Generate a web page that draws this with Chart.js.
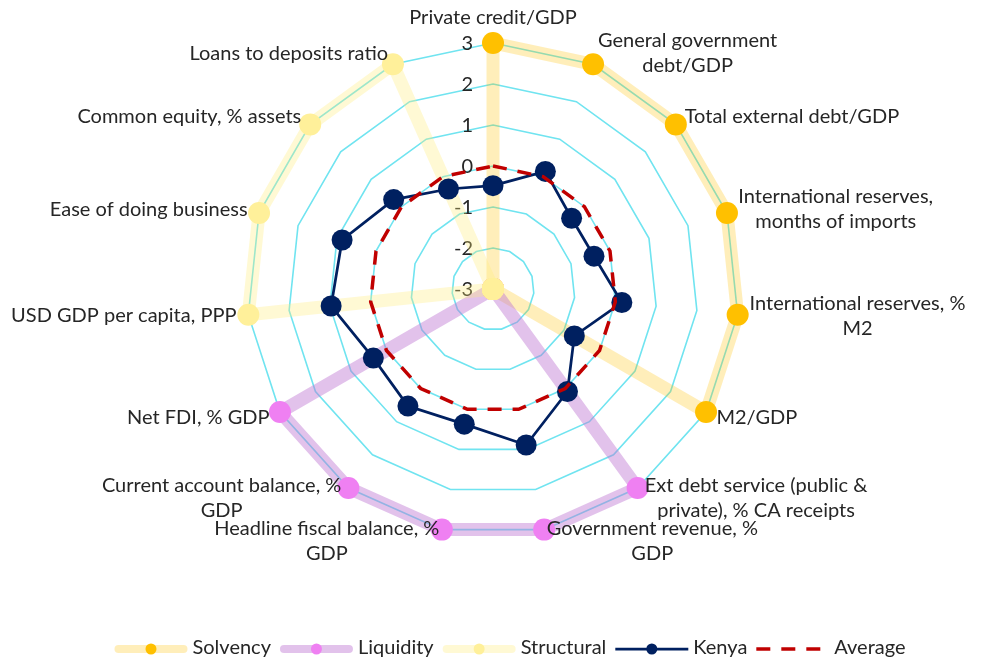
<!DOCTYPE html>
<html>
<head>
<meta charset="utf-8">
<script src="https://cdn.jsdelivr.net/npm/chart.js@4"></script>
<style>
  html, body { margin: 0; padding: 0; background: #ffffff; }
  #wrap { width: 984px; height: 659px; position: relative; }
</style>
</head>
<body>
<div id="wrap"><canvas id="chart"></canvas></div>
<script>
// Indicator axes, clockwise from the top
const categories = [
  ["Private credit/GDP"],
  ["General government", "debt/GDP"],
  ["Total external debt/GDP"],
  ["International reserves,", "months of imports"],
  ["International reserves, %", "M2"],
  ["M2/GDP"],
  ["Ext debt service (public &", "private), % CA receipts"],
  ["Government revenue, %", "GDP"],
  ["Headline fiscal balance, %", "GDP"],
  ["Current account balance, %", "GDP"],
  ["Net FDI, % GDP"],
  ["USD GDP per capita, PPP"],
  ["Ease of doing business"],
  ["Common equity, % assets"],
  ["Loans to deposits ratio"]
];

// Group bands: 3 on the group's own axes, -3 (centre) elsewhere
const solvency   = [3, 3, 3, 3, 3, 3, -3, -3, -3, -3, -3, -3, -3, -3, -3];
const liquidity  = [-3, -3, -3, -3, -3, -3, 3, 3, 3, 3, 3, -3, -3, -3, -3];
const structural = [-3, -3, -3, -3, -3, -3, -3, -3, -3, -3, -3, 3, 3, 3, 3];

// Standardised scores
const kenya   = [-0.48, 0.14, -0.42, -0.41, 0.16, -0.71, 0.09, 0.89, 0.37, 0.53, 0.37, 0.97, 0.87, 0.26, -0.33];
const average = [0, 0, 0, 0, 0, 0, 0, 0, 0, 0, 0, 0, 0, 0, 0];

const tickValues = [-3, -2, -1, 0, 1, 2, 3];

const FONT_FAMILY = "Lato, 'Open Sans', sans-serif";
const FONT_SIZE = 20;
const TEXT_COLOR = '#262626';

const legendItems = [
  { text: 'Solvency',   kind: 'band',   band: 'rgba(255,192,0,0.27)',   dot: '#FFC000' },
  { text: 'Liquidity',  kind: 'band',   band: 'rgba(190,120,210,0.45)', dot: '#EF80F2' },
  { text: 'Structural', kind: 'band',   band: 'rgba(255,236,120,0.32)', dot: '#FFF09A' },
  { text: 'Kenya',      kind: 'line',   color: '#002060' },
  { text: 'Average',    kind: 'dashed', color: '#C00000' }
];

// Tick numbers to the left of the vertical axis, drawn under the series
const tickLabelPlugin = {
  id: 'tickLabels',
  beforeDatasetsDraw(chart) {
    const scale = chart.scales.r;
    const ctx = chart.ctx;
    ctx.save();
    ctx.font = FONT_SIZE + 'px ' + FONT_FAMILY;
    ctx.fillStyle = TEXT_COLOR;
    ctx.textAlign = 'right';
    ctx.textBaseline = 'middle';
    tickValues.forEach(v => {
      const p = scale.getPointPositionForValue(0, v);
      ctx.fillText(String(v), p.x - 20, p.y + 1);
    });
    ctx.restore();
  }
};

// Axis titles placed just outside the outer ring, and the legend row
const axisTitlePlugin = {
  id: 'axisTitles',
  afterDraw(chart) {
    const scale = chart.scales.r;
    const ctx = chart.ctx;
    const lineH = 25;
    ctx.save();
    ctx.font = FONT_SIZE + 'px ' + FONT_FAMILY;
    ctx.fillStyle = TEXT_COLOR;
    ctx.textBaseline = 'middle';
    ctx.textAlign = 'center';
    const n = categories.length;
    categories.forEach((lines, i) => {
      const ang = i * 2 * Math.PI / n;
      const s = Math.sin(ang), c = Math.cos(ang);
      const p = scale.getPointPosition(i, scale.drawingArea + 12);
      const w = Math.max(...lines.map(t => ctx.measureText(t).width));
      let cx;
      if (s > 0.05) cx = p.x + w / 2;
      else if (s < -0.05) cx = p.x - w / 2;
      else cx = p.x;
      let cy = p.y;
      if (Math.abs(s) <= 0.05 && c > 0) cy = p.y - (lines.length * lineH) / 2 - 1;
      const top = cy - (lines.length - 1) * lineH / 2;
      lines.forEach((t, k) => ctx.fillText(t, cx, top + k * lineH));
    });

    // legend
    const symW = 73, gapIn = 5, gapOut = 9;
    const widths = legendItems.map(it => ctx.measureText(it.text).width);
    let total = 0;
    widths.forEach((w, k) => { total += symW + gapIn + w + (k < widths.length - 1 ? gapOut : 0); });
    let x = 510 - total / 2;
    const y = 649;
    legendItems.forEach((it, k) => {
      const mid = x + symW / 2;
      if (it.kind === 'band') {
        ctx.strokeStyle = it.band;
        ctx.lineWidth = 8;
        ctx.lineCap = 'round';
        ctx.beginPath(); ctx.moveTo(x + 4, y); ctx.lineTo(x + symW - 4, y); ctx.stroke();
        ctx.fillStyle = it.dot;
        ctx.beginPath(); ctx.arc(mid, y, 5.5, 0, 2 * Math.PI); ctx.fill();
      } else if (it.kind === 'line') {
        ctx.strokeStyle = it.color;
        ctx.lineWidth = 2.75;
        ctx.lineCap = 'butt';
        ctx.beginPath(); ctx.moveTo(x, y); ctx.lineTo(x + symW, y); ctx.stroke();
        ctx.fillStyle = it.color;
        ctx.beginPath(); ctx.arc(mid, y, 5.5, 0, 2 * Math.PI); ctx.fill();
      } else {
        ctx.strokeStyle = it.color;
        ctx.lineWidth = 3.5;
        ctx.lineCap = 'butt';
        ctx.setLineDash([14, 11]);
        ctx.beginPath(); ctx.moveTo(x, y); ctx.lineTo(x + symW, y); ctx.stroke();
        ctx.setLineDash([]);
      }
      ctx.fillStyle = TEXT_COLOR;
      ctx.textAlign = 'left';
      ctx.fillText(it.text, x + symW + gapIn, y - 1);
      x += symW + gapIn + widths[k] + gapOut;
    });
    ctx.restore();
  }
};

const bandStyle = (line, dot, order) => ({
  borderColor: line,
  borderWidth: 13,
  borderJoinStyle: 'round',
  pointRadius: 11,
  pointBackgroundColor: dot,
  pointBorderWidth: 0,
  fill: false,
  clip: false,
  order: order
});

new Chart(document.getElementById('chart'), {
  type: 'radar',
  data: {
    labels: categories,
    datasets: [
      Object.assign({ label: 'Solvency', data: solvency }, bandStyle('rgba(255,192,0,0.27)', '#FFC000', 4)),
      Object.assign({ label: 'Liquidity', data: liquidity }, bandStyle('rgba(190,120,210,0.45)', '#EF80F2', 3)),
      Object.assign({ label: 'Structural', data: structural }, bandStyle('rgba(255,236,120,0.32)', '#FFF09A', 2)),
      {
        label: 'Kenya', data: kenya,
        borderColor: '#002060', borderWidth: 2.75,
        pointRadius: 10.5, pointBackgroundColor: '#002060', pointBorderWidth: 0,
        fill: false, clip: false, order: 1
      },
      {
        label: 'Average', data: average,
        borderColor: '#C00000', borderWidth: 3.5, borderDash: [14, 11],
        pointRadius: 0, fill: false, clip: false, order: 0
      }
    ]
  },
  options: {
    responsive: true,
    maintainAspectRatio: false,
    animation: false,
    layout: { padding: { left: 2, right: 0, top: 43, bottom: 124 } },
    plugins: { legend: { display: false }, tooltip: { enabled: false } },
    elements: { line: { tension: 0 } },
    scales: {
      r: {
        min: -3, max: 3,
        ticks: { stepSize: 1, display: false },
        grid: { color: 'rgb(112,228,240)', lineWidth: 1.6, circular: false },
        angleLines: { display: false },
        pointLabels: { display: false }
      }
    }
  },
  plugins: [tickLabelPlugin, axisTitlePlugin]
});
</script>
</body>
</html>
